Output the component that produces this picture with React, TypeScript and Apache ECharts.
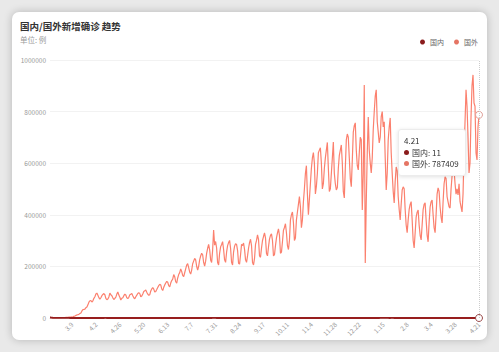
import React, { useEffect, useRef } from 'react';
import * as echarts from 'echarts';

const TITLE = '国内/国外新增确诊 趋势';
const UNIT = '单位: 例';
const SERIES_NAMES = ['国内', '国外'];
const Y_MAX = 1000000;
const Y_INTERVAL = 200000;
const LABEL_STEP = 24;

// 国外 daily new cases, by month (from 2020-02-16 to 2021-04-21)
const foreignFeb20 = [150, 100, 120, 130, 160, 210, 370, 300, 330, 410, 500, 730, 1000, 1200];
const foreignMar20 = [1600, 1800, 2100, 2300, 2700, 3600, 3900, 3800, 4000, 4600, 6800, 7500, 10200, 11800, 12500, 14800, 17200, 19600, 27300, 32800, 33200, 34600, 39800, 42600, 51000, 61200, 66800, 67500, 62000, 66500, 76200];
const foreignApr20 = [82400, 93000, 96500, 88000, 79000, 72500, 78600, 86300, 91200, 94800, 90100, 76400, 70800, 73200, 81500, 96200, 90300, 86400, 78200, 71600, 75800, 80900, 92600, 100800, 88700, 80400, 69800, 76300, 78800, 86500];
const foreignMay20 = [92300, 89400, 78200, 75600, 80100, 89700, 92400, 94600, 86300, 78500, 74200, 82300, 88600, 95100, 98200, 94300, 82600, 85400, 92800, 102400, 105300, 108500, 100200, 92300, 88100, 90400, 104600, 112800, 118300, 112100, 100400];
const foreignJun20 = [102600, 110300, 118500, 125600, 130800, 128200, 112500, 106700, 118900, 128300, 135600, 142100, 138400, 125300, 120800, 135400, 145200, 150600, 168300, 160200, 140500, 135600, 155200, 168300, 175800, 190400, 180600, 165300, 160200, 175400];
const foreignJul20 = [190600, 205300, 210800, 195200, 178400, 170300, 185600, 210200, 220500, 230800, 225300, 200600, 185300, 200400, 225600, 240300, 250800, 245100, 215300, 200800, 220400, 250600, 270300, 285200, 265300, 225100, 215400, 262300, 341200, 282600, 296400];
const foreignAug20 = [271300, 215200, 205400, 250300, 275600, 285100, 295800, 265400, 225300, 215600, 255100, 280400, 292300, 300600, 270200, 215800, 205300, 255600, 278200, 288400, 285100, 262300, 212400, 208600, 245300, 285200, 280400, 290600, 265800, 225400, 215800];
const foreignSep20 = [240600, 270300, 292400, 305100, 280300, 215400, 205600, 230800, 285300, 300600, 322400, 305200, 240500, 235300, 270600, 300400, 315800, 330200, 310600, 250300, 240800, 275400, 305600, 320200, 325800, 300400, 240600, 245300, 280400, 310800];
const foreignOct20 = [330200, 345600, 320300, 250800, 255400, 295600, 340200, 350800, 365400, 330600, 280300, 265600, 300800, 380400, 400200, 410600, 370300, 300600, 310200, 380400, 410800, 440600, 470300, 430800, 350400, 380600, 450300, 500800, 560200, 590400, 480600];
const foreignNov20 = [400300, 460800, 520400, 580600, 620300, 640800, 600200, 480600, 510300, 560800, 640400, 650600, 660200, 600800, 500400, 520600, 580300, 620800, 650400, 680600, 580300, 490200, 500600, 560400, 620300, 682400, 560800, 520300, 496200, 505400];
const foreignDec20 = [580300, 630600, 650400, 670800, 600200, 490600, 465300, 580400, 690800, 713200, 700600, 620400, 540300, 508600, 610200, 720400, 745800, 756300, 650600, 590400, 574200, 640600, 700300, 690800, 418400, 560200, 903100, 213400, 450600, 640300, 779200];
const foreignJan21 = [650400, 600300, 562400, 620800, 730300, 800600, 860200, 884300, 760600, 720300, 678400, 700600, 780200, 800400, 740800, 760300, 620600, 496300, 560800, 690400, 740200, 775600, 640300, 560400, 490800, 446300, 530600, 585200, 570400, 470800, 420300];
const foreignFeb21 = [380400, 440600, 496200, 508300, 500800, 420600, 360400, 330800, 380200, 420600, 440300, 451200, 380800, 300400, 271200, 330600, 390800, 410300, 418600, 360200, 320600, 302400, 360800, 420300, 440600, 446200, 380400, 320800];
const foreignMar21 = [295400, 370600, 430200, 450800, 457300, 400600, 350200, 330600, 400800, 480300, 504200, 490600, 430300, 390800, 368400, 450600, 520300, 547200, 540800, 470600, 450300, 430800, 426200, 500600, 550300, 570800, 574200, 520600, 480300, 500800, 477200];
const foreignApr21 = [520400, 450800, 430300, 411200, 480600, 640300, 760800, 884200, 820600, 700300, 562400, 600800, 780300, 900600, 942200, 833400, 820600, 640300, 612800, 740200, 787409];

// 国内 daily new cases, by month
const domesticFeb20 = [2048, 1886, 1749, 394, 889, 397, 648, 409, 508, 406, 433, 327, 427, 573];
const domesticMar20 = [202, 125, 119, 139, 143, 99, 44, 40, 19, 24, 15, 8, 11, 20, 16, 21, 13, 34, 39, 41, 46, 39, 78, 47, 67, 55, 54, 45, 31, 48, 36];
const domesticApr20 = [35, 31, 19, 30, 39, 32, 62, 63, 42, 46, 99, 108, 89, 46, 36, 26, 27, 16, 12, 11, 30, 10, 10, 11, 12, 3, 6, 22, 4, 12];
const domesticMay20 = [2, 1, 3, 1, 2, 2, 4, 1, 14, 17, 1, 7, 3, 6, 4, 5, 7, 6, 6, 3, 4, 2, 3, 11, 7, 2, 1, 2, 4, 2, 2];
const domesticJun20 = [4, 6, 6, 3, 6, 5, 4, 3, 3, 2, 11, 11, 57, 49, 40, 44, 25, 31, 32, 26, 25, 30, 22, 19, 13, 17, 21, 12, 19, 19];
const domesticJul20 = [3, 5, 3, 6, 8, 7, 7, 11, 4, 8, 11, 14, 8, 3, 6, 11, 13, 28, 22, 11, 14, 14, 22, 21, 46, 61, 68, 101, 105, 123, 127];
const domesticAug20 = [45, 49, 36, 27, 27, 37, 28, 23, 19, 25, 25, 22, 22, 19, 24, 22, 13, 12, 11, 22, 16, 22, 20, 16, 15, 14, 9, 9, 8, 10, 12];
const domesticSep20 = [8, 11, 9, 15, 10, 10, 8, 10, 11, 7, 7, 6, 10, 10, 7, 10, 11, 32, 14, 19, 16, 7, 8, 12, 11, 10, 21, 12, 14, 10];
const domesticOct20 = [20, 15, 16, 20, 12, 16, 9, 17, 21, 13, 20, 33, 31, 24, 13, 8, 24, 13, 23, 22, 36, 28, 35, 29, 20, 38, 25, 47, 24, 27, 33];
const domesticNov20 = [27, 22, 25, 24, 24, 26, 33, 23, 30, 20, 15, 9, 11, 8, 10, 16, 12, 10, 15, 10, 17, 8, 16, 22, 21, 22, 20, 23, 14, 18];
const domesticDec20 = [15, 14, 23, 21, 18, 20, 15, 12, 16, 17, 22, 20, 24, 24, 16, 14, 7, 11, 14, 23, 17, 10, 25, 32, 24, 33, 37, 41, 35, 27, 31];
const domesticJan21 = [37, 31, 33, 28, 30, 23, 62, 63, 37, 103, 69, 115, 138, 144, 130, 109, 109, 118, 103, 144, 92, 88, 107, 124, 99, 82, 75, 69, 54, 92, 45];
const domesticFeb21 = [42, 30, 29, 36, 23, 22, 22, 12, 20, 13, 16, 12, 13, 5, 4, 5, 10, 10, 10, 10, 7, 9, 11, 7, 11, 10, 12, 8];
const domesticMar21 = [8, 13, 10, 5, 11, 10, 12, 4, 7, 10, 6, 8, 5, 6, 11, 10, 16, 12, 9, 5, 12, 13, 18, 10, 14, 10, 6, 14, 11, 13, 10];
const domesticApr21 = [13, 12, 20, 32, 18, 19, 14, 15, 16, 20, 17, 9, 11, 21, 13, 11, 12, 11, 12, 16, 11];

// [month, first day, foreign, domestic]
const MONTHS: [number, number, number[], number[]][] = [
  [2, 16, foreignFeb20, domesticFeb20],
  [3, 1, foreignMar20, domesticMar20],
  [4, 1, foreignApr20, domesticApr20],
  [5, 1, foreignMay20, domesticMay20],
  [6, 1, foreignJun20, domesticJun20],
  [7, 1, foreignJul20, domesticJul20],
  [8, 1, foreignAug20, domesticAug20],
  [9, 1, foreignSep20, domesticSep20],
  [10, 1, foreignOct20, domesticOct20],
  [11, 1, foreignNov20, domesticNov20],
  [12, 1, foreignDec20, domesticDec20],
  [1, 1, foreignJan21, domesticJan21],
  [2, 1, foreignFeb21, domesticFeb21],
  [3, 1, foreignMar21, domesticMar21],
  [4, 1, foreignApr21, domesticApr21],
];

const categories: string[] = [];
const foreign: number[] = [];
const domestic: number[] = [];
MONTHS.forEach(([m, s, f, d]) => {
  f.forEach((v, i) => {
    categories.push(`${m}.${s + i}`);
    foreign.push(v);
    domestic.push(d[i]);
  });
});
const LAST = categories.length - 1;

const FONT = '"Noto Sans CJK SC", "Noto Sans", sans-serif';
const DOM_COLOR = '#8a1c1c';
const FOR_COLOR = '#e57564';

export default function App() {
  const ref = useRef<HTMLDivElement>(null);

  useEffect(() => {
    if (!ref.current) return;
    const chart = echarts.init(ref.current, undefined, { renderer: 'svg' });
    const dot = (c: string) =>
      `<span style="display:inline-block;width:5px;height:5px;border-radius:50%;background:${c};margin-right:3px;vertical-align:1px"></span>`;
    chart.setOption({
      animation: false,
      textStyle: { fontFamily: FONT },
      title: [
        {
          text: TITLE,
          left: 8,
          top: 9,
          padding: 0,
          textStyle: { fontSize: 9.5, fontWeight: 'bold', color: '#333', fontFamily: FONT },
        },
        {
          text: UNIT,
          left: 8,
          top: 24,
          padding: 0,
          textStyle: { fontSize: 7.5, fontWeight: 'normal', color: '#999', fontFamily: FONT },
        },
      ],
      legend: {
        data: SERIES_NAMES,
        right: 9,
        top: 26.5,
        padding: 0,
        icon: 'circle',
        itemWidth: 5,
        itemHeight: 5,
        itemGap: 10,
        textStyle: { fontSize: 7, color: '#666', fontFamily: FONT },
      },
      grid: { left: 38, right: 8, top: 48, bottom: 22 },
      tooltip: {
        trigger: 'axis',
        triggerOn: 'none',
        alwaysShowContent: true,
        transitionDuration: 0,
        position: [386, 117],
        backgroundColor: '#fff',
        borderColor: '#ececec',
        borderWidth: 1,
        padding: [5, 6, 5, 5],
        extraCssText: 'box-shadow:0 1px 4px rgba(0,0,0,0.12);border-radius:3px;',
        axisPointer: { type: 'line', lineStyle: { color: '#cccccc', type: 'dotted', width: 1 } },
        formatter: (ps: any) => {
          const arr = Array.isArray(ps) ? ps : [ps];
          const head = `<div>${arr[0].axisValue}</div>`;
          const rows = arr
            .map((p: any) => `<div>${dot(p.seriesIndex === 0 ? DOM_COLOR : FOR_COLOR)}${p.seriesName}: ${p.value}</div>`)
            .join('');
          return `<div style="font-family:${FONT.replace(/"/g, "'")};font-size:8px;line-height:11.5px;color:#333">${head}${rows}</div>`;
        },
      },
      xAxis: {
        type: 'category',
        boundaryGap: false,
        data: categories,
        axisLine: { lineStyle: { color: '#dddddd' } },
        axisTick: { show: false },
        axisLabel: {
          interval: (i: number) => (LAST - i) % LABEL_STEP === 0,
          rotate: 45,
          fontSize: 6.5,
          color: '#999',
          margin: 5,
          fontFamily: FONT,
        },
      },
      yAxis: {
        type: 'value',
        min: 0,
        max: Y_MAX,
        interval: Y_INTERVAL,
        axisLine: { show: false },
        axisTick: { show: false },
        axisLabel: { fontSize: 6.5, color: '#999', margin: 4, fontFamily: FONT, formatter: (v: number) => String(v) },
        splitLine: { lineStyle: { color: '#f2f2f2' } },
      },
      series: [
        {
          name: SERIES_NAMES[0],
          type: 'line',
          data: domestic,
          showSymbol: false,
          symbol: 'emptyCircle',
          symbolSize: 7,
          lineStyle: { width: 1.8, color: DOM_COLOR },
          itemStyle: { color: DOM_COLOR, borderWidth: 1 },
          emphasis: { scale: false, itemStyle: { borderWidth: 1, borderColor: '#9a4a4a', color: '#fff' } },
          z: 3,
        },
        {
          name: SERIES_NAMES[1],
          type: 'line',
          data: foreign,
          showSymbol: false,
          symbol: 'emptyCircle',
          symbolSize: 7,
          lineStyle: { width: 1.2, color: FOR_COLOR },
          itemStyle: { color: FOR_COLOR, borderWidth: 1 },
          emphasis: { scale: false, itemStyle: { borderWidth: 1, borderColor: '#e0a098', color: '#fff' } },
          z: 2,
        },
      ],
    });
    chart.dispatchAction({ type: 'showTip', seriesIndex: 1, dataIndex: LAST });
    return () => chart.dispose();
  }, []);

  return (
    <div style={{ position: 'fixed', left: 0, top: 0, width: 499, height: 352, background: '#e9e9e9', overflow: 'hidden' }}>
      <div
        style={{
          position: 'absolute',
          left: 12,
          top: 12,
          width: 475,
          height: 328,
          background: '#fff',
          borderRadius: 7,
          boxShadow: '0 0 8px rgba(0,0,0,0.22)',
          overflow: 'hidden',
        }}
      >
        <div ref={ref} style={{ width: 475, height: 328 }} />
      </div>
    </div>
  );
}
